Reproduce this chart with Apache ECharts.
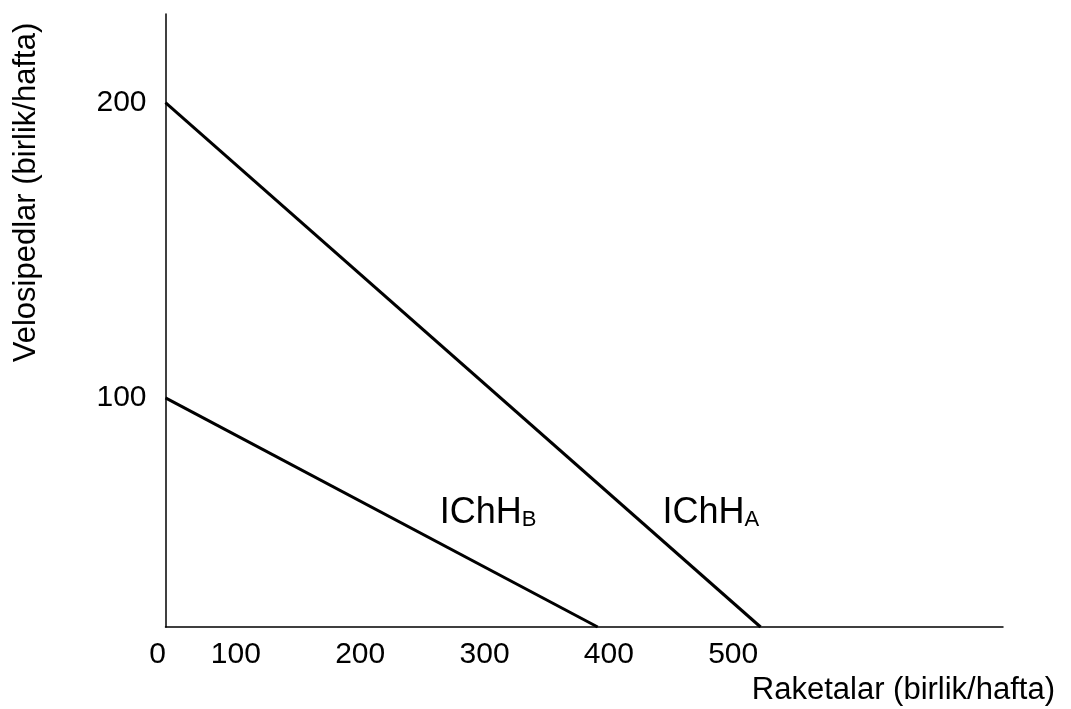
<!DOCTYPE html>
<html>
<head>
<meta charset="utf-8">
<script src="https://cdn.jsdelivr.net/npm/echarts@6/dist/echarts.min.js"></script>
<style>
  html, body { margin: 0; padding: 0; background: #fff; }
  #main { width: 1071px; height: 709px; }
</style>
</head>
<body>
<div id="main"></div>
<script>
// axis ranges (origin of the drawn axes)
const xMin = 43.4, xMax = 717;
const yMin = 22.4, yMax = 230;

// tick labels
const xTickValues = [xMin, 100, 200, 300, 400, 500];
const xTickText = ['0', '100', '200', '300', '400', '500'];
const yTickValues = [100, 200];

// production possibility lines [raketalar, velosipedlar]
const ichhA = [[xMin, 200], [522, yMin]];
const ichhB = [[xMin, 100], [391, yMin]];

const font = 'Liberation Sans, Arial, sans-serif';

let chart = echarts.init(document.getElementById('main'));

chart.setOption({
    animation: false,
    backgroundColor: '#fff',
    grid: { left: 165.5, right: 68, top: 14, bottom: 82, outerBoundsMode: 'none' },
    xAxis: {
        type: 'value',
        min: xMin,
        max: xMax,
        name: 'Raketalar (birlik/hafta)',
        nameLocation: 'end',
        nameGap: 52,
        nameTextStyle: {
            fontFamily: font, fontSize: 31, color: '#000',
            align: 'right', verticalAlign: 'top', padding: [48, 0, 0, 0]
        },
        axisLine: { lineStyle: { color: '#000', width: 1.5 } },
        axisTick: { show: false },
        splitLine: { show: false },
        axisLabel: {
            customValues: xTickValues,
            formatter: v => {
                let i = xTickValues.indexOf(v);
                return i === 0 ? '{o|' + xTickText[i] + '}' : xTickText[i];
            },
            rich: { o: { padding: [0, 16, 0, 0], fontFamily: font, fontSize: 30, color: '#000' } },
            fontFamily: font, fontSize: 30, color: '#000', margin: 13
        }
    },
    yAxis: {
        type: 'value',
        min: yMin,
        max: yMax,
        name: 'Velosipedlar (birlik/hafta)',
        nameLocation: 'middle',
        nameGap: 124,
        nameRotate: 90,
        nameTextStyle: {
            fontFamily: font, fontSize: 31, color: '#000',
            padding: [0, 0, 0, 256]
        },
        axisLine: { show: true, lineStyle: { color: '#000', width: 1.5 } },
        axisTick: { show: false },
        splitLine: { show: false },
        axisLabel: {
            customValues: yTickValues,
            fontFamily: font, fontSize: 30, color: '#000', margin: 19
        }
    },
    series: [
        {
            name: 'IChH A',
            type: 'line',
            data: ichhA,
            symbol: 'none',
            lineStyle: { color: '#000', width: 3 },
            endLabel: {
                show: true,
                formatter: '{m|IChH}{s|A}',
                offset: [-106, -114],
                rich: {
                    m: { fontFamily: font, fontSize: 36, color: '#000' },
                    s: { fontFamily: font, fontSize: 22, color: '#000', verticalAlign: 'bottom', padding: [14, 0, 0, 0] }
                }
            }
        },
        {
            name: 'IChH B',
            type: 'line',
            data: ichhB,
            symbol: 'none',
            lineStyle: { color: '#000', width: 3 },
            endLabel: {
                show: true,
                formatter: '{m|IChH}{s|B}',
                offset: [-166, -114],
                rich: {
                    m: { fontFamily: font, fontSize: 36, color: '#000' },
                    s: { fontFamily: font, fontSize: 22, color: '#000', verticalAlign: 'bottom', padding: [14, 0, 0, 0] }
                }
            }
        }
    ]
});
</script>
</body>
</html>
